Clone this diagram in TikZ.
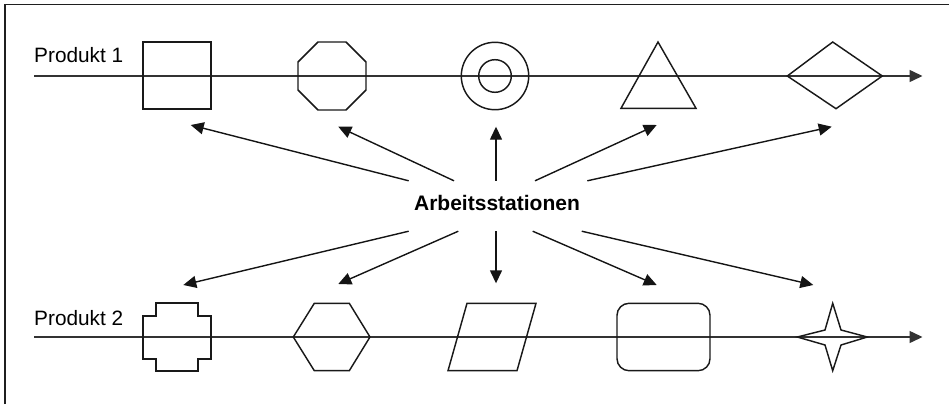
\documentclass[tikz,border=0pt]{standalone}
\usepackage{fontspec}
\setmainfont{Liberation Sans}
\usetikzlibrary{arrows.meta}
\begin{document}
\begin{tikzpicture}[x=1pt,y=-1pt,
  station/.style={draw=black!90, line width=1.45pt, line join=miter},
  prodline/.style={draw=black!80, line width=1.5pt, -{Triangle[length=13pt,width=12pt]}},
  stationarrow/.style={draw=black!92, line width=1.4pt, -{Triangle[length=13pt,width=12pt]}},
  prodlabel/.style={inner sep=0pt, anchor=base west, font=\fontsize{20.8}{25}\selectfont},
  frameline/.style={draw=black!88, line width=1.4pt}]
\useasboundingbox (0,0) rectangle (949,404);

% frame (top and left edge only)
\coordinate (f0) at (5,404);
\coordinate (f1) at (5,4.7);
\coordinate (f2) at (949,4.7);
\draw[frameline] (f0) -- (f1) -- (f2);

% product lines
\coordinate (p1s) at (34,76);
\coordinate (p1e) at (922.5,76);
\coordinate (p2s) at (34,337);
\coordinate (p2e) at (922.5,337);
\draw[prodline] (p1s) -- (p1e);
\draw[prodline] (p2s) -- (p2e);

\node[prodlabel] (l1) at (34,63) {Produkt 1};
\node[prodlabel] (l2) at (34,325) {Produkt 2};

% stations, product 1
\draw[station] (143,42) rectangle (211,109);
\draw[station] (318,42) -- (346,42) -- (366,62) -- (366,90) -- (346,110) -- (318,110) -- (298,90) -- (298,62) -- cycle;
\draw[station] (495,76) circle[radius=33.7];
\draw[station] (495,76) circle[radius=16.3];
\draw[station] (658,42) -- (696,108.3) -- (621,108.3) -- cycle;
\draw[station] (787.3,76) -- (832.7,42) -- (882.3,76) -- (836,108.7) -- cycle;

% stations, product 2
\draw[station] (156,303) -- (198,303) -- (198,316) -- (211,316) -- (211,359) -- (198,359) -- (198,371) -- (156,371) -- (156,359) -- (143,359) -- (143,316) -- (156,316) -- cycle;
\draw[station] (293.3,337) -- (314.3,303.3) -- (349.3,303.3) -- (370,337) -- (349.3,370.7) -- (314.3,370.7) -- cycle;
\draw[station] (467,303.3) -- (536,303.3) -- (517,370.7) -- (448,370.7) -- cycle;
\draw[station, rounded corners=12pt] (617,303.3) rectangle (710,370.7);
\draw[station] (832.7,303.3) -- (841,330) -- (867.3,337) -- (841,345) -- (832.7,370.7) -- (825,345) -- (797.3,337) -- (825,330) -- cycle;

% central label
\node[minimum width=180pt, minimum height=50pt, text depth=7pt, inner sep=0pt,
      font=\bfseries\fontsize{21}{25}\selectfont] (A) at (497,206) {Arbeitsstationen};

% arrow targets
\coordinate (u1) at (190.7,125);
\coordinate (u2) at (338.3,126.7);
\coordinate (u3) at (496,126.7);
\coordinate (u4) at (656.7,125);
\coordinate (u5) at (831.7,126.7);
\coordinate (d1) at (183.3,285);
\coordinate (d2) at (338.3,284);
\coordinate (d3) at (496,283.3);
\coordinate (d4) at (656.7,285);
\coordinate (d5) at (813.3,285);

\draw[stationarrow] ([xshift=-88.3pt]A.north) -- (u1);
\draw[stationarrow] ([xshift=-43pt]A.north) -- (u2);
\draw[stationarrow] ([xshift=-1pt]A.north) -- (u3);
\draw[stationarrow] ([xshift=38pt]A.north) -- (u4);
\draw[stationarrow] ([xshift=90.3pt]A.north) -- (u5);
\draw[stationarrow] ([xshift=-88.3pt]A.south) -- (d1);
\draw[stationarrow] ([xshift=-38.7pt]A.south) -- (d2);
\draw[stationarrow] ([xshift=-1pt]A.south) -- (d3);
\draw[stationarrow] ([xshift=35.7pt]A.south) -- (d4);
\draw[stationarrow] ([xshift=84.7pt]A.south) -- (d5);
\end{tikzpicture}
\end{document}
